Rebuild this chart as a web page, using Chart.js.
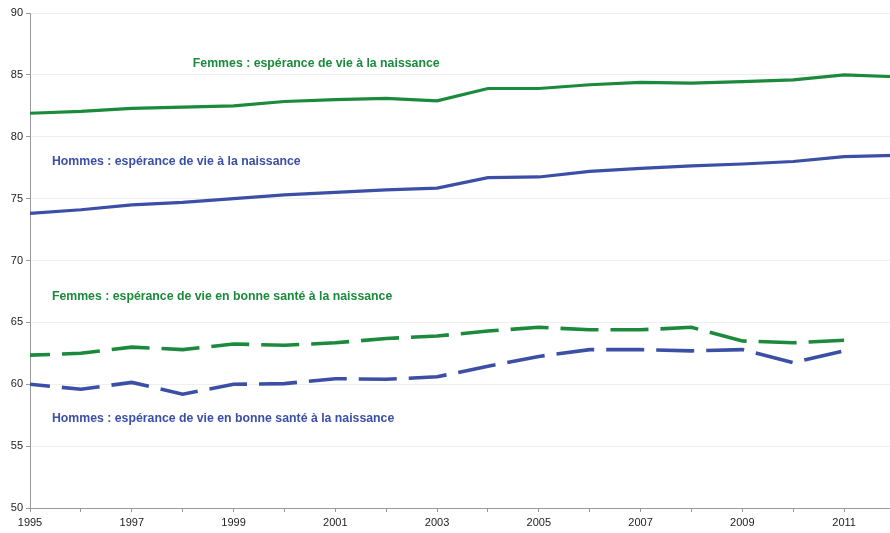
<!DOCTYPE html>
<html lang="fr">
<head>
  <meta charset="UTF-8">
  <title>Espérance de vie à la naissance</title>
  <script src="https://cdn.jsdelivr.net/npm/chart.js"></script>
  <style>
    html,body{width:890px;height:533px;margin:0;padding:0;overflow:hidden;background:#fff;font-family:'Liberation Sans',Arial,sans-serif}
    #wrap{width:899px;height:533px}
  </style>
</head>
<body>
<div id="wrap"><canvas id="graph" width="899" height="533"></canvas></div>
<script>
/********** Données **********/
const annees=[1995,1996,1997,1998,1999,2000,2001,2002,2003,2004,2005,2006,2007,2008,2009,2010,2011,2012];
const femmesVie=[81.9,82.05,82.3,82.4,82.5,82.85,83.0,83.1,82.9,83.9,83.9,84.2,84.4,84.33,84.45,84.6,85.0,84.85];
const hommesVie=[73.8,74.1,74.5,74.7,75.0,75.3,75.5,75.7,75.85,76.7,76.75,77.2,77.45,77.65,77.8,78.0,78.4,78.5];
const femmesSante=[62.35,62.5,63.0,62.8,63.25,63.15,63.35,63.7,63.9,64.3,64.6,64.4,64.4,64.6,63.5,63.35,63.55];
const hommesSante=[60.0,59.6,60.15,59.2,60.0,60.05,60.45,60.4,60.6,61.45,62.25,62.8,62.8,62.7,62.8,61.75,62.7];

const VERT='#1c8a3c', BLEU='#3c4fa6';

// étiquettes (année, valeur) du coin gauche du texte
const etiquettes=[
  {texte:'Femmes : espérance de vie à la naissance',x:1998.2,y:85.9,c:VERT},
  {texte:'Hommes : espérance de vie à la naissance',x:1995.43,y:78.0,c:BLEU},
  {texte:'Femmes : espérance de vie en bonne santé à la naissance',x:1995.43,y:67.05,c:VERT},
  {texte:'Hommes : espérance de vie en bonne santé à la naissance',x:1995.43,y:57.25,c:BLEU}
];

const pts=(arr)=>arr.map((v,i)=>({x:annees[i],y:v}));

const etiquettesPlugin={
  id:'etiquettes',
  afterDatasetsDraw(chart){
    const {ctx,scales:{x,y}}=chart;
    ctx.save();
    ctx.font='bold 12.3px "Liberation Sans", Arial, sans-serif';
    ctx.textAlign='left';ctx.textBaseline='middle';
    etiquettes.forEach(e=>{ctx.fillStyle=e.c;ctx.fillText(e.texte,x.getPixelForValue(e.x),y.getPixelForValue(e.y));});
    ctx.restore();
  }
};

new Chart(document.getElementById('graph'),{
  type:'line',
  data:{datasets:[
    {label:'Femmes vie',data:pts(femmesVie),borderColor:VERT,borderWidth:3.2},
    {label:'Hommes vie',data:pts(hommesVie),borderColor:BLEU,borderWidth:3.2},
    {label:'Femmes santé',data:pts(femmesSante),borderColor:VERT,borderWidth:3.6,borderDash:[38,12],borderDashOffset:18},
    {label:'Hommes santé',data:pts(hommesSante),borderColor:BLEU,borderWidth:3.6,borderDash:[38,12],borderDashOffset:18}
  ]},
  options:{
    responsive:false,animation:false,
    elements:{point:{radius:0},line:{tension:0,borderCapStyle:'butt'}},
    layout:{padding:{top:13,right:0,left:0,bottom:0}},
    plugins:{legend:{display:false},tooltip:{enabled:false}},
    scales:{
      x:{type:'linear',min:1995,max:2012,
        afterFit:s=>{s.height=25;},
        border:{color:'#9a9a9a',width:1},
        grid:{drawOnChartArea:false,tickLength:4,color:'#9a9a9a'},
        ticks:{stepSize:1,autoSkip:false,maxRotation:0,padding:4,color:'#222',font:{size:11,family:'"Liberation Sans", Arial, sans-serif'},
          callback:v=>((v-1995)%2===0&&v<2012)?String(v):''}
      },
      y:{min:50,max:90,
        afterFit:s=>{s.width=30;},
        border:{color:'#9a9a9a',width:1},
        grid:{color:'#efefef',tickColor:'#9a9a9a',tickLength:4},
        ticks:{stepSize:5,padding:3,color:'#222',font:{size:11,family:'"Liberation Sans", Arial, sans-serif'}}
      }
    }
  },
  plugins:[etiquettesPlugin]
});
</script>
</body>
</html>
